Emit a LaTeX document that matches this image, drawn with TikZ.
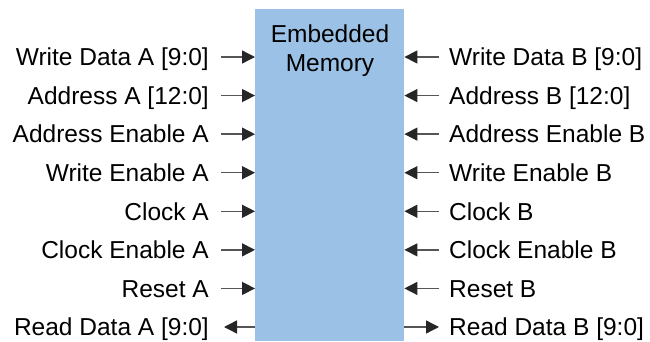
\documentclass[tikz,border=0pt]{standalone}
\usepackage{fontspec}
\setmainfont{Liberation Sans}
\usetikzlibrary{arrows.meta}
\definecolor{memblue}{RGB}{155,194,230}
\definecolor{wiregray}{RGB}{85,85,85}

\begin{document}
\begin{tikzpicture}[x=1pt, y=-1pt,
 sig/.style={font=\fontsize{24.5}{29}\selectfont, inner sep=0pt, text height=17.5pt, text depth=0pt},
 wire/.style={draw=wiregray, line width=1.4pt, -{Triangle[length=13pt, width=13pt, color=black!85]}}]
\useasboundingbox (0,0) rectangle (650,341);
\node[fill=memblue, minimum width=149pt, minimum height=332pt, inner sep=0pt, anchor=north west] (mem) at (255,9) {};
\node[font=\fontsize{24.5}{29}\selectfont, align=center, inner sep=0pt, anchor=north] (title) at (330,25) {Embedded\\Memory};

% port rows
\foreach \i/\la/\lb in {0/Write Data A [9:0]/Write Data B [9:0], 1/Address A [12:0]/Address B [12:0],
 2/Address Enable A/Address Enable B, 3/Write Enable A/Write Enable B, 4/Clock A/Clock B,
 5/Clock Enable A/Clock Enable B, 6/Reset A/Reset B, 7/Read Data A [9:0]/Read Data B [9:0]}
{
 \pgfmathsetmacro\yy{57+38.57*\i}
 \node[sig, anchor=east] (pa\i) at (209,\yy) {\la};
 \node[sig, anchor=west] (pb\i) at (449,\yy) {\lb};
}
\foreach \i in {0,...,6}
{
 \draw[wire, shorten <=12pt] (pa\i.east) -- (pa\i.east -| mem.west);
 \draw[wire, shorten <=10pt] (pb\i.west) -- (pb\i.west -| mem.east);
}
\draw[wire, shorten >=15pt] (pa7.east -| mem.west) -- (pa7.east);
\draw[wire, shorten >=10pt] (pb7.west -| mem.east) -- (pb7.west);
\end{tikzpicture}
\end{document}
